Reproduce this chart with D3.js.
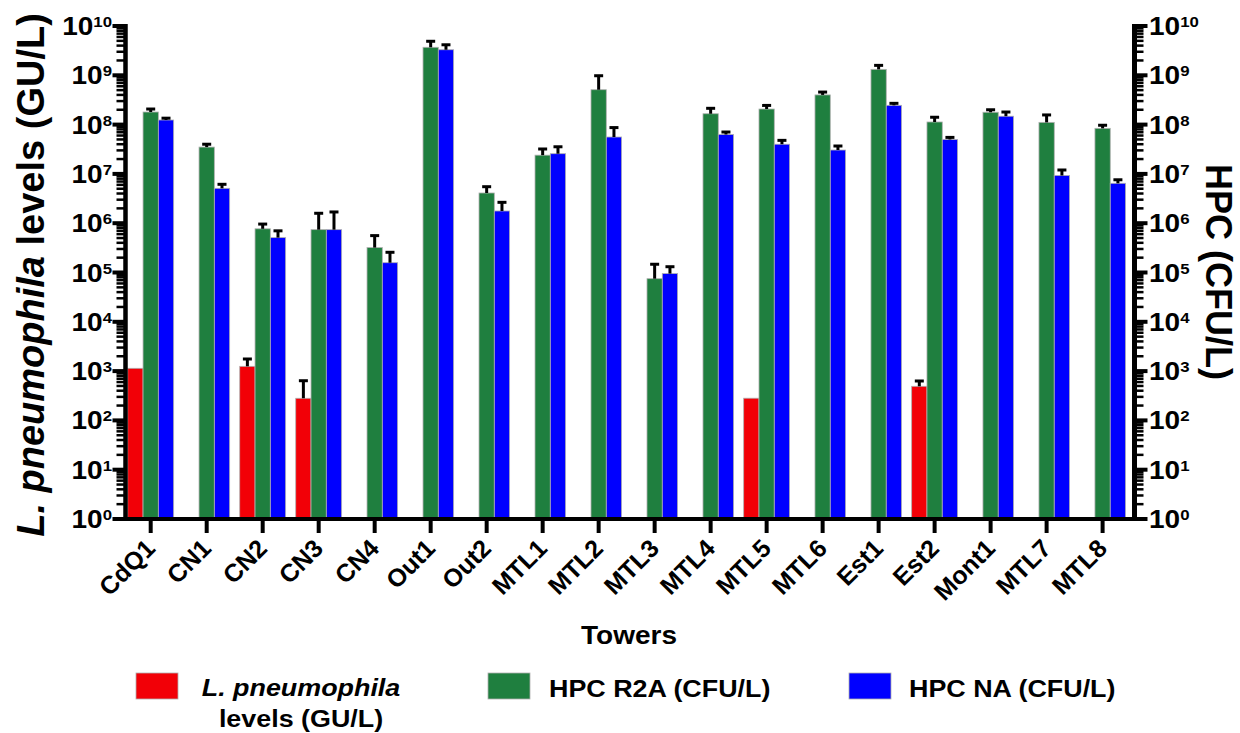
<!DOCTYPE html>
<html>
<head>
<meta charset="utf-8">
<script src="https://cdn.jsdelivr.net/npm/d3@7"></script>
<style>
  html, body { margin: 0; padding: 0; background: #fff; }
  svg { display: block; font-family: "Liberation Sans", Arial, Helvetica, sans-serif; font-weight: bold; }
</style>
</head>
<body>
<svg id="chart" width="1240" height="733"></svg>
<script>
// Cooling towers sampled
const towers = ["CdQ1","CN1","CN2","CN3","CN4","Out1","Out2","MTL1","MTL2","MTL3",
                "MTL4","MTL5","MTL6","Est1","Est2","Mont1","MTL7","MTL8"];

// L. pneumophila (GU/L): mean and SD, null where not detected / no SD
const lpMean = [1140, null, 1250, 281, null, null, null, null, null, null,
                null, 282, null, null, 492, null, null, null];
const lpSD   = [null, null, 510, 357, null, null, null, null, null, null,
                null, null, null, null, 138, null, null, null];

// HPC on R2A (CFU/L)
const r2aMean = [1.8e8, 3.5e7, 7.7e5, 7.4e5, 3.2e5, 3.7e9, 4.1e6, 2.4e7, 5.1e8, 7.5e4,
                 1.66e8, 2.07e8, 4.0e8, 1.32e9, 1.13e8, 1.78e8, 1.11e8, 8.4e7];
const r2aSD   = [2.7e7, 5e6, 1.9e5, 8.5e5, 2.4e5, 1.2e9, 1.4e6, 8e6, 4.7e8, 7.2e4,
                 4.8e7, 3.8e7, 5.7e7, 2.7e8, 2.8e7, 2.2e7, 4.6e7, 1.3e7];

// HPC on NA (CFU/L)
const naMean = [1.24e8, 5.1e6, 5.1e5, 7.4e5, 1.58e5, 3.3e9, 1.77e6, 2.57e7, 5.6e7, 9.5e4,
                6.3e7, 4.0e7, 3.05e7, 2.46e8, 5.0e7, 1.48e8, 9.3e6, 6.45e6];
const naSD   = [1.1e7, 1.05e6, 1.9e5, 9.5e5, 9.9e4, 8.6e8, 8.8e5, 9.8e6, 3.1e7, 3.6e4,
                7.7e6, 7.9e6, 6.3e6, 2.4e7, 5e6, 3.2e7, 2.7e6, 1.15e6];

const seriesNames = ["L. pneumophila levels (GU/L)", "HPC R2A (CFU/L)", "HPC NA (CFU/L)"];
const seriesColors = ["#F20007", "#1F7F3F", "#0000FF"];

// Decade exponents for the log axes
const decades = [0,1,2,3,4,5,6,7,8,9,10];

const svg = d3.select("#chart");
const SX = 1.12; // horizontal text stretch

const plot = { left: 125.5, right: 1134.5, top: 26, bottom: 519 };

const y = d3.scaleLog().domain([1, 1e10]).range([plot.bottom, plot.top]);
const x = d3.scaleBand().domain(towers).range([122.7, 1130.6])
  .paddingInner(0.18).paddingOuter(0.09);
const xs = d3.scaleBand().domain(d3.range(3)).range([0, x.bandwidth()]);

// Rows of bars: one per tower per series
const series = [
  { mean: lpMean, sd: lpSD },
  { mean: r2aMean, sd: r2aSD },
  { mean: naMean, sd: naSD }
];
const rows = [];
series.forEach((s, si) => {
  towers.forEach((t, i) => {
    if (s.mean[i] != null) rows.push({ tower: t, si, mean: s.mean[i], sd: s.sd[i] });
  });
});

// Bars
svg.append("g").selectAll("rect").data(rows).join("rect")
  .attr("x", d => x(d.tower) + xs(d.si))
  .attr("width", xs.bandwidth())
  .attr("y", d => y(d.mean))
  .attr("height", d => plot.bottom - y(d.mean))
  .attr("fill", d => seriesColors[d.si])
  .attr("stroke", "#b0b0b0")
  .attr("stroke-width", 0.8);

// Error bars (upper only)
const eb = svg.append("g").attr("stroke", "#000");
const withErr = rows.filter(d => d.sd != null);
eb.selectAll("line.v").data(withErr).join("line")
  .attr("class", "v")
  .attr("x1", d => x(d.tower) + xs(d.si) + xs.bandwidth() / 2)
  .attr("x2", d => x(d.tower) + xs(d.si) + xs.bandwidth() / 2)
  .attr("y1", d => y(d.mean))
  .attr("y2", d => y(d.mean + d.sd))
  .attr("stroke-width", 3);
eb.selectAll("line.c").data(withErr).join("line")
  .attr("class", "c")
  .attr("x1", d => x(d.tower) + xs(d.si) + xs.bandwidth() / 2 - 4.5)
  .attr("x2", d => x(d.tower) + xs(d.si) + xs.bandwidth() / 2 + 4.5)
  .attr("y1", d => y(d.mean + d.sd))
  .attr("y2", d => y(d.mean + d.sd))
  .attr("stroke-width", 3);

// Minor tick values 2..9 in each decade
const minorVals = [];
for (let e = 0; e < 10; e++) for (let m = 2; m <= 9; m++) minorVals.push(m * Math.pow(10, e));
const majorVals = decades.map(e => Math.pow(10, e));

function drawLogAxis(g, side) {
  const dir = side === "left" ? -1 : 1;
  const ax = side === "left" ? plot.left : plot.right;
  g.append("line").attr("x1", ax).attr("x2", ax)
    .attr("y1", plot.top - 2).attr("y2", plot.bottom + 2)
    .attr("stroke", "#000").attr("stroke-width", side === "left" ? 4.5 : 5);
  g.selectAll("line.minor").data(minorVals).join("line")
    .attr("class", "minor")
    .attr("x1", ax).attr("x2", ax + dir * 9)
    .attr("y1", d => y(d)).attr("y2", d => y(d))
    .attr("stroke", "#000").attr("stroke-width", 2.5);
  g.selectAll("line.major").data(majorVals).join("line")
    .attr("class", "major")
    .attr("x1", ax).attr("x2", ax + dir * 13)
    .attr("y1", d => y(d)).attr("y2", d => y(d))
    .attr("stroke", "#000").attr("stroke-width", 4);
  const labX = side === "left" ? 112 : 1149;
  const lab = g.selectAll("g.lab").data(decades).join("g")
    .attr("class", "lab")
    .attr("transform", e => `translate(${labX},${y(Math.pow(10, e)) + 9}) scale(${SX},1)`);
  const t = lab.append("text")
    .attr("text-anchor", side === "left" ? "end" : "start")
    .attr("font-size", 25);
  t.append("tspan").text("10");
  t.append("tspan").attr("font-size", 15).attr("dy", -8).text(e => e);
}

drawLogAxis(svg.append("g"), "left");
drawLogAxis(svg.append("g"), "right");

// Category axis
const xg = svg.append("g");
xg.append("line").attr("x1", plot.left).attr("x2", plot.right)
  .attr("y1", plot.bottom).attr("y2", plot.bottom)
  .attr("stroke", "#000").attr("stroke-width", 4);
xg.selectAll("line.tick").data(towers).join("line")
  .attr("class", "tick")
  .attr("x1", d => x(d) + x.bandwidth() / 2).attr("x2", d => x(d) + x.bandwidth() / 2)
  .attr("y1", plot.bottom).attr("y2", plot.bottom + 14)
  .attr("stroke", "#000").attr("stroke-width", 4);
xg.selectAll("text").data(towers).join("text")
  .attr("transform", d => `translate(${x(d) + x.bandwidth() / 2 + 6},${plot.bottom + 31}) rotate(-45)`)
  .attr("text-anchor", "end")
  .attr("font-size", 25)
  .text(d => d);

// Axis titles
const lt = svg.append("text")
  .attr("transform", `translate(44,275) rotate(-90)`)
  .attr("text-anchor", "middle")
  .attr("font-size", 38);
lt.append("tspan").attr("font-style", "italic").text("L. pneumophila");
lt.append("tspan").text(" levels (GU/L)");

svg.append("text")
  .attr("transform", `translate(1206,272) rotate(90)`)
  .attr("text-anchor", "middle")
  .attr("font-size", 36)
  .text("HPC (CFU/L)");

svg.append("text")
  .attr("transform", `translate(629,644) scale(${SX},1)`)
  .attr("text-anchor", "middle")
  .attr("font-size", 25)
  .text("Towers");

// Legend
const legend = svg.append("g");
const legendItems = [
  { swatchX: 136, textX: 301, anchor: "middle" },
  { swatchX: 488, textX: 549, anchor: "start" },
  { swatchX: 849, textX: 909, anchor: "start" }
];
legendItems.forEach((it, i) => {
  legend.append("rect")
    .attr("x", it.swatchX).attr("y", 673).attr("width", 42).attr("height", 26)
    .attr("fill", seriesColors[i]).attr("stroke", "#b0b0b0").attr("stroke-width", 0.8);
});
// first entry: italic species name over two lines
const l0 = legend.append("g").attr("transform", `translate(${legendItems[0].textX},696) scale(${SX},1)`);
l0.append("text").attr("text-anchor", "middle").attr("font-size", 24)
  .attr("font-style", "italic").text(seriesNames[0].split(" levels")[0]);
l0.append("text").attr("text-anchor", "middle").attr("font-size", 24).attr("y", 31)
  .text("levels" + seriesNames[0].split(" levels")[1]);
[1, 2].forEach(i => {
  legend.append("text")
    .attr("transform", `translate(${legendItems[i].textX},697) scale(${SX},1)`)
    .attr("font-size", 24)
    .text(seriesNames[i]);
});
</script>
</body>
</html>
